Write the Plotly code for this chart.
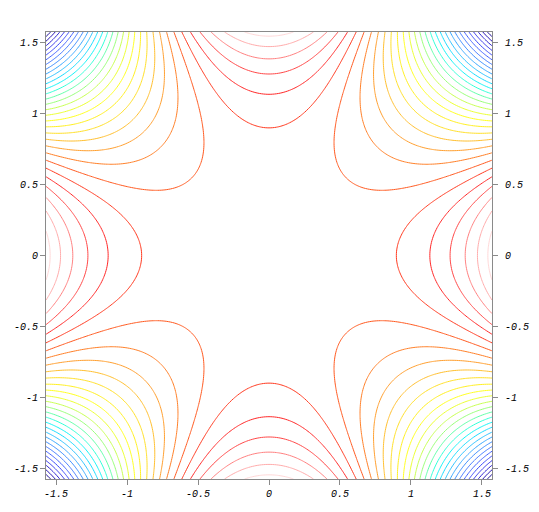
import numpy as np
import plotly.graph_objects as go

# Domain and sampling of the surface  z = Re((x + i y)^4) on [-pi/2, pi/2]^2
half_width = np.pi / 2
n_samples = 241
x_vals = np.linspace(-half_width, half_width, n_samples)
y_vals = np.linspace(-half_width, half_width, n_samples)

# Contour levels (30 levels, spacing 1, offset from the minimum)
z_min = -4 * half_width ** 4
level_step = 1.0
n_levels = 30
level_start = z_min + level_step
level_end = z_min + n_levels * level_step

tick_vals = [-1.5, -1, -0.5, 0, 0.5, 1, 1.5]
tick_text = ["-1.5", "-1", "-0.5", "0", "0.5", "1", "1.5"]

# One line colour per contour level, lowest level first
level_colors = [
    "#1c0c98", "#2412b4", "#2a1ed0", "#3030ea", "#3846fa", "#3c5cff",
    "#3c74ff", "#3a8cff", "#34a6ff", "#26c0ff", "#14dcff", "#10f4f8",
    "#30ffd8", "#60ffa8", "#98ff78", "#c8ff50", "#ecff30", "#ffff20",
    "#fff020", "#ffe028", "#ffc030", "#ffa030", "#ff8028", "#ff5a20",
    "#ff3a20", "#ff2828", "#ff4848", "#ff8080", "#ffacac", "#ffd8d8",
]

X, Y = np.meshgrid(x_vals, y_vals)
Z = X**4 - 6 * X**2 * Y**2 + Y**4

colorscale = [[k / (n_levels - 1), c] for k, c in enumerate(level_colors)]

fig = go.Figure()
fig.add_trace(go.Contour(
    x=x_vals, y=y_vals, z=Z,
    colorscale=colorscale,
    showscale=False,
    autocontour=False,
    contours=dict(coloring="lines", start=level_start, end=level_end, size=level_step),
    line=dict(width=1, smoothing=1),
    hoverinfo="skip",
))
fig.add_trace(go.Scatter(x=[None], y=[None], yaxis="y2", showlegend=False, hoverinfo="skip"))

tick_font = dict(family="Liberation Mono", size=10, color="black", style="italic")
axis_common = dict(
    range=[-half_width, half_width],
    tickvals=tick_vals, ticktext=tick_text,
    showgrid=False, zeroline=False,
    showline=True, linecolor="#8a8a8a", linewidth=1,
    ticks="outside", ticklen=5, tickcolor="#8a8a8a", tickwidth=1,
    tickfont=tick_font, automargin=False,
)

fig.update_layout(
    width=539, height=512,
    margin=dict(l=46, r=47, t=32, b=33),
    paper_bgcolor="white", plot_bgcolor="white",
    showlegend=False,
    xaxis=dict(**axis_common, mirror=True),
    yaxis=dict(**axis_common, mirror=False),
    yaxis2=dict(**axis_common, overlaying="y", side="right", ticklabelstandoff=5),
)

fig.write_html(
    "out.html",
    config={"displayModeBar": False},
    post_script="document.body.style.margin='0';document.body.style.padding='0';document.body.style.overflow='hidden';",
)
